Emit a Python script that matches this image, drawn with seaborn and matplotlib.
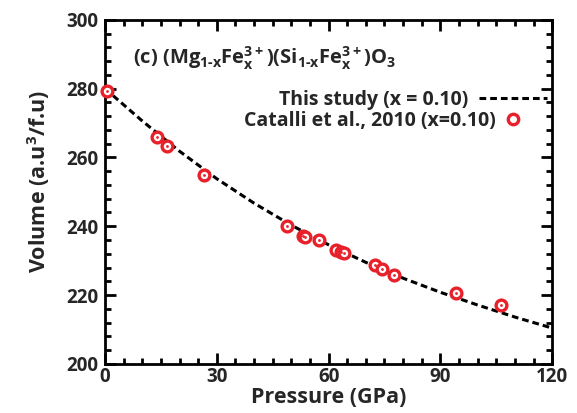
import numpy as np
import pandas as pd
import seaborn as sns
import matplotlib.pyplot as plt
from matplotlib.lines import Line2D
from matplotlib.ticker import MultipleLocator

sns.set_theme(style="ticks")
plt.rcParams["font.family"] = ["Open Sans", "DejaVu Sans"]
plt.rcParams["font.weight"] = "bold"
plt.rcParams["mathtext.fontset"] = "custom"
plt.rcParams["mathtext.rm"] = "Open Sans:bold"
plt.rcParams["mathtext.it"] = "Open Sans:bold"
plt.rcParams["mathtext.bf"] = "Open Sans:bold"

# EOS curve, this study (x = 0.10)
fit_p = [0, 10, 20, 30, 40, 50, 60, 70, 80, 90, 100, 110, 120]
fit_v = [280.0, 270.6, 261.8, 253.8, 246.7, 240.3, 234.6, 229.5, 224.9, 220.8, 217.1, 213.6, 210.4]

# Catalli et al., 2010 (x=0.10)
exp_p = [0.5, 13.9, 16.7, 26.5, 48.8, 53.2, 53.8, 57.4, 62.0, 63.2, 64.0, 72.5, 74.3, 77.6, 94.2, 106.2]
exp_v = [279.3, 265.9, 263.4, 254.9, 240.1, 237.2, 236.9, 236.0, 233.1, 232.6, 232.1, 228.6, 227.6, 225.9, 220.5, 217.2]

red = "#e8202a"
dash = (0, (2.2, 1.3))
fit_df = pd.DataFrame({"P": fit_p, "V": fit_v})
exp_df = pd.DataFrame({"P": exp_p, "V": exp_v})

fig = plt.figure(figsize=(5.77, 4.13), dpi=100)
ax = fig.add_axes([0.182, 0.119, 0.775, 0.833])

sns.lineplot(data=fit_df, x="P", y="V", ax=ax, color="black", lw=2.2,
             linestyle=dash, zorder=2)
sns.scatterplot(data=exp_df, x="P", y="V", ax=ax, s=60, marker="o",
                facecolor="white", edgecolor=red, linewidth=2.4, zorder=3, clip_on=False)
sns.scatterplot(data=exp_df, x="P", y="V", ax=ax, s=4, marker="o",
                color=red, linewidth=0, zorder=4, clip_on=False)

ax.set_xlim(0, 120)
ax.set_ylim(200, 300)
ax.xaxis.set_major_locator(MultipleLocator(30))
ax.xaxis.set_minor_locator(MultipleLocator(5))
ax.yaxis.set_major_locator(MultipleLocator(20))
ax.yaxis.set_minor_locator(MultipleLocator(4))
ax.tick_params(which="both", direction="in", top=True, right=True, width=2,
               labelsize=13.5, color="black")
ax.tick_params(axis="x", pad=2)
ax.tick_params(axis="y", pad=5)
ax.tick_params(which="major", length=8)
ax.tick_params(which="minor", length=4.5)
for s in ax.spines.values():
    s.set_linewidth(2)
    s.set_color("black")
for lab in ax.get_xticklabels() + ax.get_yticklabels():
    lab.set_fontweight("bold")

ax.set_xlabel("Pressure (GPa)", fontsize=15.5, fontweight="bold", labelpad=0)
ax.set_ylabel("Volume (a.u$^3$/f.u)", fontsize=15.5, fontweight="bold")
ax.yaxis.set_label_coords(-0.118, 0.53)

ax.text(0.063, 0.872, r"(c) (Mg$_{\text{1-x}}$Fe$_{x}^{3+}$)(Si$_{\text{1-x}}$Fe$_{x}^{3+}$)O$_{3}$",
        transform=ax.transAxes, fontsize=14.5, fontweight="bold", va="baseline", ha="left")

# two one-row legends so the rows keep their own offsets as in the original
line_handle = Line2D([], [], color="black", lw=2.2, linestyle=dash)
dot_handle = Line2D([], [], color=red, marker="o", markersize=7.5, markerfacecolor="white",
                    markeredgewidth=2.4, linestyle="none")
leg1 = ax.legend([line_handle], ["This study (x = 0.10)"], loc="center right",
                 bbox_to_anchor=(0.989, 0.767), frameon=False, markerfirst=False,
                 prop={"size": 14, "weight": "bold"}, handlelength=3.5, handletextpad=0.55,
                 borderaxespad=0, borderpad=0)
ax.add_artist(leg1)
ax.legend([dot_handle], ["Catalli et al., 2010 (x=0.10)"], loc="center right",
          bbox_to_anchor=(0.935, 0.706), frameon=False, markerfirst=False,
          prop={"size": 14, "weight": "bold"}, handlelength=1.0, handletextpad=0.4,
          borderaxespad=0, borderpad=0)

fig.savefig("out.png", dpi=100)
